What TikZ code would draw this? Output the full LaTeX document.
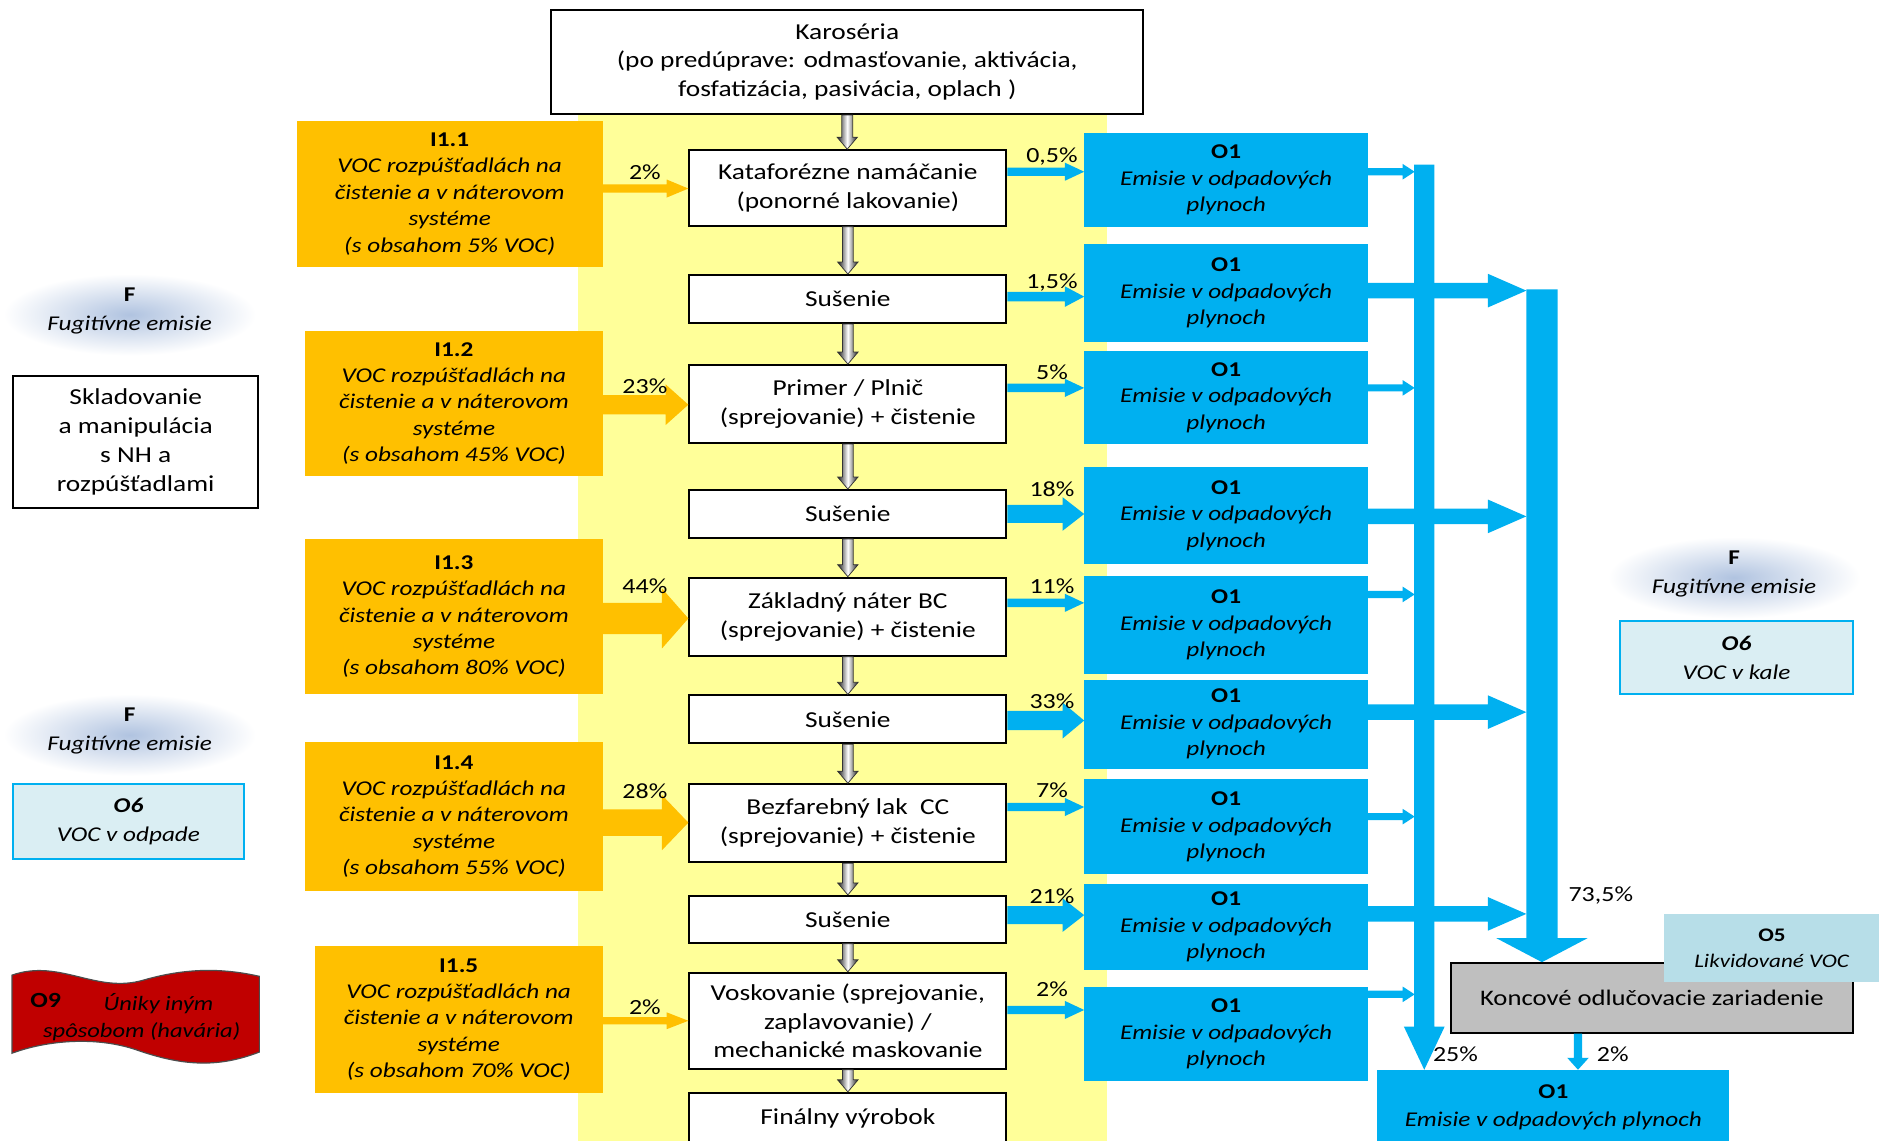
\documentclass[tikz,border=0pt]{standalone}
\usepackage{fontspec}
\setmainfont{Carlito}[FakeStretch=1.2]
\usetikzlibrary{calc}
\definecolor{orng}{HTML}{FFC000}
\definecolor{cyanb}{HTML}{00B0F0}
\definecolor{ylw}{HTML}{FFFF99}
\definecolor{lblue}{HTML}{DAEEF3}
\definecolor{ofive}{HTML}{B7DEE8}
\definecolor{greyk}{HTML}{BFBFBF}
\definecolor{redf}{HTML}{C00000}
\definecolor{glowc}{HTML}{B0C3E0}
% box by corners: style, x1, y1, x2, y2, name, text
\newcommand\bx[7]{\node[#1, minimum width={#4-#2}, minimum height={#5-#3}] (#6) at ({(#2+#4)/2},{(#3+#5)/2}) {#7};}
% horizontal block arrow: style, from, to, y, shaft half, head half, head length
\newcommand\harr[7]{\path[#1] let \p1=(#2 |- 0,#4), \p2=(#3 |- 0,#4) in
  (\x1,\y1+#5pt) -- (\x2-#7pt,\y1+#5pt) -- (\x2-#7pt,\y1+#6pt) -- (\x2,\y1)
  -- (\x2-#7pt,\y1-#6pt) -- (\x2-#7pt,\y1-#5pt) -- (\x1,\y1-#5pt) -- cycle;}
% vertical (downward) block arrow: style, from, to, shaft half, head half, head length
\newcommand\varr[6]{\path[#1] let \p1=(#2), \p2=(#3) in
  (\x1-#4pt,\y1) -- (\x1+#4pt,\y1) -- (\x1+#4pt,\y2+#6pt) -- (\x1+#5pt,\y2+#6pt)
  -- (\x1,\y2) -- (\x1-#5pt,\y2+#6pt) -- (\x1-#4pt,\y2+#6pt) -- cycle;}
\begin{document}
\begin{tikzpicture}[x=1pt,y=-1pt,
  wbox/.style={draw=black, line width=1.6pt, fill=white, align=center, inner sep=0pt,
    font=\fontsize{19}{24}\selectfont},
  kbox/.style={wbox, fill=greyk, font=\fontsize{18.5}{22}\selectfont},
  obox/.style={fill=orng, align=center, inner sep=0pt,
    font=\fontsize{17.5}{22}\selectfont\itshape},
  bbox/.style={fill=cyanb, align=center, inner sep=0pt,
    font=\fontsize{17.5}{22}\selectfont\itshape},
  lbbox/.style={fill=lblue, draw=cyanb, line width=1.6pt, align=center, inner sep=0pt,
    font=\fontsize{17.5}{24}\selectfont\itshape},
  fivebox/.style={fill=ofive, align=center, inner sep=0pt, font=\fontsize{16}{22}\selectfont},
  pct/.style={font=\fontsize{18}{20}\selectfont, inner sep=0pt},
  ftxt/.style={align=center, inner sep=0pt, font=\fontsize{17.5}{24}\selectfont},
  ofill/.style={fill=orng},
  bfill/.style={fill=cyanb},
  dnarrow/.style={draw=black!80, line width=0.6pt, left color=black!90, right color=black!90, middle color=white},
  glow/.style={inner color=glowc, outer color=white}
]
\useasboundingbox (0,0) rectangle (1568,950);
\clip (0,0) rectangle (1568,950);
\fill[white] (0,0) rectangle (1568,950);
\fill[ylw] (481,95) rectangle (922,960);

% glows behind "F"
\shade[glow] (108,262) ellipse [x radius=105pt, y radius=34pt];
\shade[glow] (108,612) ellipse [x radius=105pt, y radius=34pt];
\shade[glow] (1444,481) ellipse [x radius=105pt, y radius=34pt];

% central process boxes
\bx{wbox}{459}{8}{952}{95}{kar}{Karoséria\\(po predúprave: odmasťovanie, aktivácia,\\fosfatizácia, pasivácia, oplach )}
\bx{wbox}{574}{125}{838}{188}{k1}{Kataforézne namáčanie\\(ponorné lakovanie)}
\bx{wbox}{574}{229}{838}{269}{k2}{Sušenie}
\bx{wbox}{574}{304}{838}{369}{k3}{Primer / Plnič\\(sprejovanie) + čistenie}
\bx{wbox}{574}{408}{838}{448}{k4}{Sušenie}
\bx{wbox}{574}{481}{838}{546}{k5}{Základný náter BC\\(sprejovanie) + čistenie}
\bx{wbox}{574}{579}{838}{619}{k6}{Sušenie}
\bx{wbox}{574}{653}{838}{718}{k7}{Bezfarebný lak\ \ CC\\(sprejovanie) + čistenie}
\bx{wbox}{574}{746}{838}{785}{k8}{Sušenie}
\bx{wbox}{574}{810}{838}{890}{k9}{Voskovanie (sprejovanie,\\zaplavovanie) /\\mechanické maskovanie}
\bx{wbox}{574}{910}{838}{952}{k10}{Finálny výrobok}

% gray flow arrows
\varr{dnarrow}{kar.south}{k1.north}{4.5}{8.5}{10}
\varr{dnarrow}{k1.south}{k2.north}{4.5}{8.5}{10}
\varr{dnarrow}{k2.south}{k3.north}{4.5}{8.5}{10}
\varr{dnarrow}{k3.south}{k4.north}{4.5}{8.5}{10}
\varr{dnarrow}{k4.south}{k5.north}{4.5}{8.5}{10}
\varr{dnarrow}{k5.south}{k6.north}{4.5}{8.5}{10}
\varr{dnarrow}{k6.south}{k7.north}{4.5}{8.5}{10}
\varr{dnarrow}{k7.south}{k8.north}{4.5}{8.5}{10}
\varr{dnarrow}{k8.south}{k9.north}{4.5}{8.5}{10}
\varr{dnarrow}{k9.south}{k10.north}{4.5}{8.5}{10}

% orange inputs
\bx{obox}{247}{101}{502}{222}{i11}{\textup{\textbf{I1.1}}\\VOC rozpúšťadlách na\\čistenie a v náterovom\\systéme\\(s obsahom 5\% VOC)}
\bx{obox}{254}{276}{502}{396}{i12}{\textup{\textbf{I1.2}}\\VOC rozpúšťadlách na\\čistenie a v náterovom\\systéme\\(s obsahom 45\% VOC)}
\bx{obox}{254}{449}{502}{578}{i13}{\textup{\textbf{I1.3}}\\VOC rozpúšťadlách na\\čistenie a v náterovom\\systéme\\(s obsahom 80\% VOC)}
\bx{obox}{254}{618}{502}{742}{i14}{\textup{\textbf{I1.4}}\\VOC rozpúšťadlách na\\čistenie a v náterovom\\systéme\\(s obsahom 55\% VOC)}
\bx{obox}{262}{788}{502}{910}{i15}{\textup{\textbf{I1.5}}\\VOC rozpúšťadlách na\\čistenie a v náterovom\\systéme\\(s obsahom 70\% VOC)}

\harr{ofill}{i11.east}{k1.west}{157}{3.5}{7.5}{18}
\harr{ofill}{i12.east}{k3.west}{337}{8}{17}{19}
\harr{ofill}{i13.east}{k5.west}{515}{13}{25}{22}
\harr{ofill}{i14.east}{k7.west}{685}{11}{23}{22}
\harr{ofill}{i15.east}{k9.west}{850}{3}{7}{18}

\node[pct] (pa) at (537,143) {2\%};
\node[pct] (pb) at (537,322) {23\%};
\node[pct] (pc) at (537,488) {44\%};
\node[pct] (pd) at (537,659) {28\%};
\node[pct] (pe) at (537,839) {2\%};

% blue outputs
\bx{bbox}{903}{111}{1139}{189}{o1a}{\textup{\textbf{O1}}\\Emisie v odpadových\\plynoch}
\bx{bbox}{903}{203}{1139}{285}{o1b}{\textup{\textbf{O1}}\\Emisie v odpadových\\plynoch}
\bx{bbox}{903}{292}{1139}{370}{o1c}{\textup{\textbf{O1}}\\Emisie v odpadových\\plynoch}
\bx{bbox}{903}{389}{1139}{470}{o1d}{\textup{\textbf{O1}}\\Emisie v odpadových\\plynoch}
\bx{bbox}{903}{480}{1139}{561}{o1e}{\textup{\textbf{O1}}\\Emisie v odpadových\\plynoch}
\bx{bbox}{903}{566}{1139}{640}{o1f}{\textup{\textbf{O1}}\\Emisie v odpadových\\plynoch}
\bx{bbox}{903}{649}{1139}{728}{o1g}{\textup{\textbf{O1}}\\Emisie v odpadových\\plynoch}
\bx{bbox}{903}{736}{1139}{808}{o1h}{\textup{\textbf{O1}}\\Emisie v odpadových\\plynoch}
\bx{bbox}{903}{822}{1139}{900}{o1i}{\textup{\textbf{O1}}\\Emisie v odpadových\\plynoch}

\harr{bfill}{k1.east}{o1a.west}{143}{3.5}{7.5}{16}
\harr{bfill}{k2.east}{o1b.west}{247}{4}{8.5}{16}
\harr{bfill}{k3.east}{o1c.west}{323}{3.5}{7.5}{16}
\harr{bfill}{k4.east}{o1d.west}{428}{7.5}{14}{18}
\harr{bfill}{k5.east}{o1e.west}{502}{3.5}{7.5}{16}
\harr{bfill}{k6.east}{o1f.west}{600}{8}{15}{18}
\harr{bfill}{k7.east}{o1g.west}{672}{3.5}{7.5}{16}
\harr{bfill}{k8.east}{o1h.west}{762}{7.5}{14}{18}
\harr{bfill}{k9.east}{o1i.west}{841}{3.5}{7.5}{16}

\node[pct] (q1) at (876,130) {0,5\%};
\node[pct] (q2) at (876,235) {1,5\%};
\node[pct] (q3) at (876,310) {5\%};
\node[pct] (q4) at (876,407) {18\%};
\node[pct] (q5) at (876,488) {11\%};
\node[pct] (q6) at (876,584) {33\%};
\node[pct] (q7) at (876,658) {7\%};
\node[pct] (q8) at (876,746) {21\%};
\node[pct] (q9) at (876,824) {2\%};

% end-of-pipe
\bx{kbox}{1208}{802}{1543}{860}{konc}{Koncové odlučovacie zariadenie}
\bx{bbox}{1147}{891}{1440}{953}{o1z}{\textup{\textbf{O1}}\\[2pt]Emisie v odpadových plynoch}
\bx{fivebox}{1386}{761}{1565}{818}{o5}{\textbf{O5}\\\textit{Likvidované VOC}}

% collectors
\coordinate (colA) at (1186,137);
\coordinate (colAl) at (1178,137);
\coordinate (colB) at (1284,241);
\coordinate (colBl) at (1271,241);
\coordinate (kx) at (1314,0);
\varr{bfill}{colA}{colA |- o1z.north}{8.5}{17}{36}
\varr{bfill}{colB}{colB |- konc.north}{13}{38}{20}
\varr{bfill}{konc.south -| kx}{kx |- o1z.north}{3.5}{9}{10}

\harr{bfill}{o1a.east}{colAl}{143}{3}{6.5}{10}
\harr{bfill}{o1c.east}{colAl}{323}{3}{6.5}{10}
\harr{bfill}{o1e.east}{colAl}{495}{3}{6.5}{10}
\harr{bfill}{o1g.east}{colAl}{680}{3}{6.5}{10}
\harr{bfill}{o1i.east}{colAl}{828}{3}{6.5}{10}
\harr{bfill}{o1b.east}{colBl}{242}{6.5}{14}{32}
\harr{bfill}{o1d.east}{colBl}{430}{6.5}{14}{32}
\harr{bfill}{o1f.east}{colBl}{593}{6.5}{14}{32}
\harr{bfill}{o1h.east}{colBl}{761}{6.5}{14}{32}

\node[pct] (r1) at (1333,746) {73,5\%};
\node[pct] (r2) at (1212,878) {25\%};
\node[pct] (r3) at (1343,878) {2\%};

% left side
\node[ftxt] (f1) at (108,259) {\textbf{F}\\\textit{Fugitívne emisie}};
\bx{wbox}{11}{313}{215}{423}{skl}{Skladovanie\\a manipulácia\\s NH a\\rozpúšťadlami}
\node[ftxt] (f2) at (108,609) {\textbf{F}\\\textit{Fugitívne emisie}};
\bx{lbbox}{11}{653}{203}{715}{o6l}{\textbf{O6}\\VOC v odpade}

\path[fill=redf, draw=black!70, line width=1pt]
  (10,812) .. controls (50,798) and (80,828) .. (120,816)
  .. controls (155,806) and (185,806) .. (216,813)
  -- (216,876) .. controls (180,890) and (150,887) .. (113,874)
  .. controls (80,863) and (40,866) .. (10,877) -- cycle;
\node[font=\fontsize{18}{20}\selectfont\bfseries, inner sep=0pt] (o9) at (38,833) {O9};
\node[font=\fontsize{17}{22}\selectfont\itshape, align=center, inner sep=0pt] (o9t) at (118,847)
  {\hspace*{28pt}Úniky iným\\spôsobom (havária)};

% right side
\node[ftxt] (f3) at (1444,478) {\textbf{F}\\\textit{Fugitívne emisie}};
\bx{lbbox}{1349}{517}{1543}{578}{o6r}{\textbf{O6}\\VOC v kale}
\end{tikzpicture}
\end{document}
